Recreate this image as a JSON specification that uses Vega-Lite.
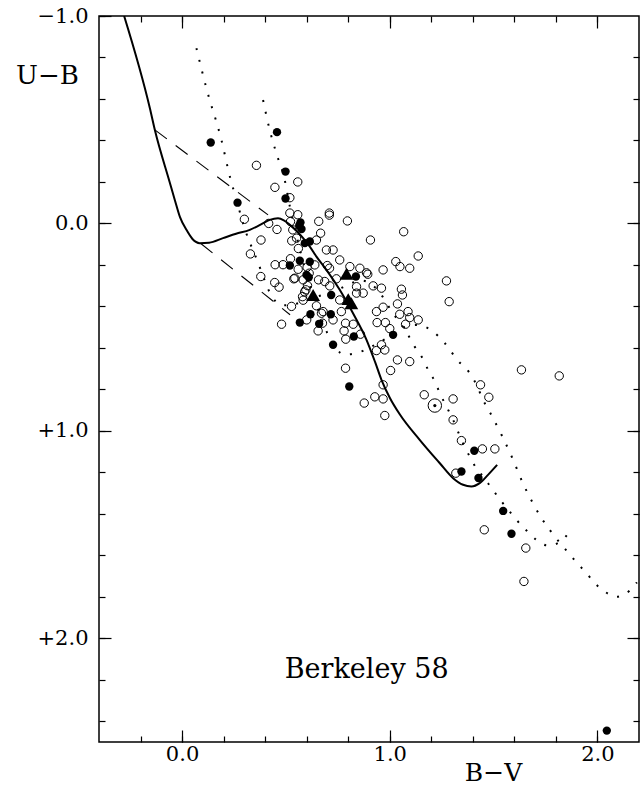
{
  "$schema": "https://vega.github.io/schema/vega-lite/v6.json",
  "width": 540,
  "height": 726,
  "autosize": "none",
  "padding": {"left": 99, "top": 16, "right": 5, "bottom": 45},
  "background": "white",
  "config": {
    "view": {"stroke": "black", "strokeWidth": 1.5},
    "font": "DejaVu Serif",
    "axis": {
      "grid": false, "domain": false, "tickColor": "black", "tickWidth": 1.2,
      "labelColor": "black", "titleColor": "black", "labelFont": "DejaVu Serif", "titleFont": "DejaVu Serif",
      "labelFontSize": 21, "titleFontSize": 26, "titleFontWeight": "normal",
      "labelOverlap": false, "labelFlush": false, "labelBound": false
    }
  },
  "resolve": {"axis": {"x": "independent", "y": "independent"}},
  "datasets": {
    "pts": [
      {"t":"f","bv":0.138,"ub":-0.39},{"t":"f","bv":0.457,"ub":-0.44},{"t":"f","bv":0.498,"ub":-0.25},{"t":"f","bv":0.267,"ub":-0.10},
      {"t":"f","bv":0.498,"ub":-0.12},{"t":"f","bv":0.564,"ub":0.01},{"t":"f","bv":0.575,"ub":0.027},{"t":"f","bv":0.57,"ub":-0.005},
      {"t":"f","bv":0.591,"ub":0.095},{"t":"f","bv":0.615,"ub":0.087},{"t":"f","bv":0.567,"ub":0.18},{"t":"f","bv":0.615,"ub":0.185},
      {"t":"f","bv":0.519,"ub":0.203},{"t":"f","bv":0.599,"ub":0.248},{"t":"f","bv":0.61,"ub":0.26},{"t":"f","bv":0.837,"ub":0.256},
      {"t":"f","bv":0.718,"ub":0.345},{"t":"f","bv":0.567,"ub":0.478},{"t":"f","bv":0.618,"ub":0.438},{"t":"f","bv":0.66,"ub":0.484},
      {"t":"f","bv":0.716,"ub":0.438},{"t":"f","bv":0.827,"ub":0.545},{"t":"f","bv":1.016,"ub":0.537},{"t":"f","bv":0.727,"ub":0.585},
      {"t":"f","bv":0.805,"ub":0.786},{"t":"f","bv":1.407,"ub":1.096},{"t":"f","bv":1.345,"ub":1.196},{"t":"f","bv":1.427,"ub":1.227},
      {"t":"f","bv":1.546,"ub":1.386},{"t":"f","bv":1.586,"ub":1.496},{"t":"f","bv":2.045,"ub":2.445},
      {"t":"t","bv":0.792,"ub":0.243},{"t":"t","bv":0.631,"ub":0.345},{"t":"t","bv":0.80,"ub":0.365},{"t":"t","bv":0.815,"ub":0.385},
      {"t":"d","bv":1.217,"ub":0.878},
      {"t":"o","bv":0.358,"ub":-0.28},{"t":"o","bv":0.557,"ub":-0.20},{"t":"o","bv":0.447,"ub":-0.174},{"t":"o","bv":0.519,"ub":-0.124},
      {"t":"o","bv":0.30,"ub":-0.02},{"t":"o","bv":0.519,"ub":-0.05},{"t":"o","bv":0.557,"ub":-0.042},{"t":"o","bv":0.709,"ub":-0.05},
      {"t":"o","bv":0.709,"ub":-0.04},{"t":"o","bv":0.796,"ub":-0.012},{"t":"o","bv":0.658,"ub":-0.01},{"t":"o","bv":0.417,"ub":0.0},
      {"t":"o","bv":0.457,"ub":0.029},{"t":"o","bv":0.522,"ub":-0.009},{"t":"o","bv":0.533,"ub":0.031},{"t":"o","bv":0.667,"ub":0.047},
      {"t":"o","bv":0.38,"ub":0.08},{"t":"o","bv":0.528,"ub":0.084},{"t":"o","bv":0.551,"ub":0.071},{"t":"o","bv":0.647,"ub":0.08},
      {"t":"o","bv":0.56,"ub":0.121},{"t":"o","bv":0.695,"ub":0.128},{"t":"o","bv":0.727,"ub":0.128},{"t":"o","bv":0.907,"ub":0.08},
      {"t":"o","bv":1.067,"ub":0.04},{"t":"o","bv":0.329,"ub":0.147},{"t":"o","bv":0.759,"ub":0.176},{"t":"o","bv":0.522,"ub":0.17},
      {"t":"o","bv":0.448,"ub":0.199},{"t":"o","bv":0.486,"ub":0.199},{"t":"o","bv":0.559,"ub":0.221},{"t":"o","bv":0.602,"ub":0.211},
      {"t":"o","bv":0.639,"ub":0.2},{"t":"o","bv":0.699,"ub":0.203},{"t":"o","bv":0.71,"ub":0.216},{"t":"o","bv":0.808,"ub":0.208},
      {"t":"o","bv":0.856,"ub":0.216},{"t":"o","bv":0.888,"ub":0.238},{"t":"o","bv":0.894,"ub":0.245},{"t":"o","bv":0.968,"ub":0.224},
      {"t":"o","bv":1.029,"ub":0.184},{"t":"o","bv":1.049,"ub":0.208},{"t":"o","bv":1.096,"ub":0.216},{"t":"o","bv":1.137,"ub":0.157},
      {"t":"o","bv":1.273,"ub":0.277},{"t":"o","bv":1.286,"ub":0.377},{"t":"o","bv":0.538,"ub":0.267},{"t":"o","bv":0.583,"ub":0.272},
      {"t":"o","bv":0.612,"ub":0.24},{"t":"o","bv":0.657,"ub":0.272},{"t":"o","bv":0.687,"ub":0.28},{"t":"o","bv":0.711,"ub":0.301},
      {"t":"o","bv":0.743,"ub":0.267},{"t":"o","bv":0.446,"ub":0.285},{"t":"o","bv":0.467,"ub":0.307},{"t":"o","bv":0.379,"ub":0.256},
      {"t":"o","bv":0.596,"ub":0.32},{"t":"o","bv":0.58,"ub":0.353},{"t":"o","bv":0.583,"ub":0.37},{"t":"o","bv":0.759,"ub":0.369},
      {"t":"o","bv":0.84,"ub":0.305},{"t":"o","bv":0.872,"ub":0.336},{"t":"o","bv":0.92,"ub":0.301},{"t":"o","bv":0.96,"ub":0.312},
      {"t":"o","bv":1.056,"ub":0.317},{"t":"o","bv":1.061,"ub":0.345},{"t":"o","bv":0.968,"ub":0.404},{"t":"o","bv":0.936,"ub":0.425},
      {"t":"o","bv":1.037,"ub":0.388},{"t":"o","bv":1.048,"ub":0.438},{"t":"o","bv":1.088,"ub":0.425},{"t":"o","bv":1.096,"ub":0.454},
      {"t":"o","bv":1.137,"ub":0.465},{"t":"o","bv":1.076,"ub":0.486},{"t":"o","bv":0.939,"ub":0.478},{"t":"o","bv":0.979,"ub":0.478},
      {"t":"o","bv":1.0,"ub":0.507},{"t":"o","bv":0.527,"ub":0.40},{"t":"o","bv":0.479,"ub":0.486},{"t":"o","bv":0.655,"ub":0.518},
      {"t":"o","bv":0.676,"ub":0.481},{"t":"o","bv":0.727,"ub":0.465},{"t":"o","bv":0.647,"ub":0.397},{"t":"o","bv":0.679,"ub":0.425},
      {"t":"o","bv":0.767,"ub":0.425},{"t":"o","bv":0.787,"ub":0.481},{"t":"o","bv":0.824,"ub":0.486},{"t":"o","bv":0.78,"ub":0.518},
      {"t":"o","bv":0.788,"ub":0.558},{"t":"o","bv":0.859,"ub":0.534},{"t":"o","bv":0.936,"ub":0.613},{"t":"o","bv":0.96,"ub":0.585},
      {"t":"o","bv":0.976,"ub":0.61},{"t":"o","bv":1.037,"ub":0.658},{"t":"o","bv":1.096,"ub":0.666},{"t":"o","bv":0.787,"ub":0.698},
      {"t":"o","bv":1.004,"ub":0.709},{"t":"o","bv":0.968,"ub":0.778},{"t":"o","bv":0.928,"ub":0.836},{"t":"o","bv":0.968,"ub":0.846},
      {"t":"o","bv":0.877,"ub":0.866},{"t":"o","bv":0.976,"ub":0.926},{"t":"o","bv":1.166,"ub":0.826},{"t":"o","bv":1.634,"ub":0.706},
      {"t":"o","bv":1.816,"ub":0.735},{"t":"o","bv":1.437,"ub":0.778},{"t":"o","bv":1.477,"ub":0.838},{"t":"o","bv":1.305,"ub":0.846},
      {"t":"o","bv":1.305,"ub":0.947},{"t":"o","bv":1.345,"ub":1.047},{"t":"o","bv":1.446,"ub":1.087},{"t":"o","bv":1.506,"ub":1.087},
      {"t":"o","bv":1.318,"ub":1.204},{"t":"o","bv":1.455,"ub":1.477},{"t":"o","bv":1.655,"ub":1.565},{"t":"o","bv":1.646,"ub":1.726},
      {"t":"o","bv":0.543,"ub":0.264},{"t":"o","bv":0.6,"ub":0.465},{"t":"o","bv":0.671,"ub":0.433},{"t":"o","bv":0.84,"ub":0.336},
      {"t":"o","bv":0.59,"ub":0.33},{"t":"o","bv":0.604,"ub":0.30}
    ],
    "lines": [
      {"g":"s","bv":-0.279,"ub":-1.0},{"g":"s","bv":-0.155,"ub":-0.555},{"g":"s","bv":-0.131,"ub":-0.45},{"g":"s","bv":-0.06,"ub":-0.2},
      {"g":"s","bv":-0.035,"ub":-0.113},{"g":"s","bv":-0.01,"ub":-0.03},{"g":"s","bv":0.021,"ub":0.031},{"g":"s","bv":0.05,"ub":0.075},
      {"g":"s","bv":0.085,"ub":0.095},{"g":"s","bv":0.13,"ub":0.093},{"g":"s","bv":0.197,"ub":0.071},{"g":"s","bv":0.26,"ub":0.05},
      {"g":"s","bv":0.326,"ub":0.031},{"g":"s","bv":0.38,"ub":0.005},{"g":"s","bv":0.422,"ub":-0.017},{"g":"s","bv":0.462,"ub":-0.025},
      {"g":"s","bv":0.49,"ub":-0.015},{"g":"s","bv":0.519,"ub":0.007},{"g":"s","bv":0.55,"ub":0.035},{"g":"s","bv":0.583,"ub":0.071},
      {"g":"s","bv":0.615,"ub":0.112},{"g":"s","bv":0.647,"ub":0.16},{"g":"s","bv":0.695,"ub":0.224},{"g":"s","bv":0.759,"ub":0.32},
      {"g":"s","bv":0.823,"ub":0.433},{"g":"s","bv":0.888,"ub":0.561},{"g":"s","bv":0.93,"ub":0.67},{"g":"s","bv":0.96,"ub":0.754},
      {"g":"s","bv":1.0,"ub":0.84},{"g":"s","bv":1.048,"ub":0.92},{"g":"s","bv":1.144,"ub":1.043},{"g":"s","bv":1.241,"ub":1.156},
      {"g":"s","bv":1.305,"ub":1.228},{"g":"s","bv":1.353,"ub":1.26},{"g":"s","bv":1.393,"ub":1.268},{"g":"s","bv":1.433,"ub":1.252},
      {"g":"s","bv":1.473,"ub":1.212},{"g":"s","bv":1.517,"ub":1.164},
      {"g":"d1","bv":-0.131,"ub":-0.451},{"g":"d1","bv":0.414,"ub":-0.041},
      {"g":"d2","bv":0.09,"ub":0.097},{"g":"d2","bv":0.52,"ub":0.44},
      {"g":"p1","bv":0.069,"ub":-0.845},{"g":"p1","bv":0.117,"ub":-0.652},{"g":"p1","bv":0.19,"ub":-0.40},{"g":"p1","bv":0.23,"ub":-0.226},
      {"g":"p1","bv":0.262,"ub":-0.113},{"g":"p1","bv":0.30,"ub":0.02},{"g":"p1","bv":0.365,"ub":0.187},{"g":"p1","bv":0.40,"ub":0.28},
      {"g":"p1","bv":0.421,"ub":0.331},{"g":"p1","bv":0.45,"ub":0.375},{"g":"p1","bv":0.485,"ub":0.395},{"g":"p1","bv":0.54,"ub":0.39},
      {"g":"p1","bv":0.597,"ub":0.371},{"g":"p1","bv":0.66,"ub":0.35},{"g":"p1","bv":0.726,"ub":0.331},{"g":"p1","bv":0.79,"ub":0.30},
      {"g":"p1","bv":0.862,"ub":0.275},{"g":"p1","bv":0.92,"ub":0.30},{"g":"p1","bv":0.976,"ub":0.369},{"g":"p1","bv":1.0,"ub":0.409},
      {"g":"p1","bv":1.088,"ub":0.537},{"g":"p1","bv":1.12,"ub":0.594},{"g":"p1","bv":1.153,"ub":0.642},{"g":"p1","bv":1.185,"ub":0.706},
      {"g":"p1","bv":1.217,"ub":0.762},{"g":"p1","bv":1.241,"ub":0.818},{"g":"p1","bv":1.273,"ub":0.883},{"g":"p1","bv":1.305,"ub":0.947},
      {"g":"p1","bv":1.345,"ub":1.043},{"g":"p1","bv":1.385,"ub":1.124},{"g":"p1","bv":1.417,"ub":1.18},{"g":"p1","bv":1.449,"ub":1.22},
      {"g":"p1","bv":1.49,"ub":1.276},{"g":"p1","bv":1.53,"ub":1.33},{"g":"p1","bv":1.57,"ub":1.38},{"g":"p1","bv":1.61,"ub":1.429},
      {"g":"p1","bv":1.658,"ub":1.48},{"g":"p1","bv":1.706,"ub":1.525},{"g":"p1","bv":1.762,"ub":1.553},{"g":"p1","bv":1.819,"ub":1.536},
      {"g":"p1","bv":1.867,"ub":1.485},
      {"g":"p2","bv":0.39,"ub":-0.595},{"g":"p2","bv":0.422,"ub":-0.45},{"g":"p2","bv":0.454,"ub":-0.338},{"g":"p2","bv":0.494,"ub":-0.21},
      {"g":"p2","bv":0.519,"ub":-0.081},{"g":"p2","bv":0.549,"ub":0.05},{"g":"p2","bv":0.60,"ub":0.25},{"g":"p2","bv":0.645,"ub":0.387},
      {"g":"p2","bv":0.70,"ub":0.53},{"g":"p2","bv":0.74,"ub":0.60},{"g":"p2","bv":0.78,"ub":0.632},{"g":"p2","bv":0.84,"ub":0.625},
      {"g":"p2","bv":0.90,"ub":0.60},{"g":"p2","bv":1.006,"ub":0.54},{"g":"p2","bv":1.07,"ub":0.50},{"g":"p2","bv":1.13,"ub":0.49},
      {"g":"p2","bv":1.20,"ub":0.515},{"g":"p2","bv":1.263,"ub":0.575},{"g":"p2","bv":1.327,"ub":0.66},{"g":"p2","bv":1.385,"ub":0.722},
      {"g":"p2","bv":1.425,"ub":0.794},{"g":"p2","bv":1.449,"ub":0.851},{"g":"p2","bv":1.48,"ub":0.907},{"g":"p2","bv":1.538,"ub":1.019},
      {"g":"p2","bv":1.594,"ub":1.14},{"g":"p2","bv":1.64,"ub":1.25},{"g":"p2","bv":1.69,"ub":1.35},{"g":"p2","bv":1.73,"ub":1.42},
      {"g":"p2","bv":1.78,"ub":1.49},{"g":"p2","bv":1.859,"ub":1.587},{"g":"p2","bv":1.90,"ub":1.635},{"g":"p2","bv":1.947,"ub":1.686},
      {"g":"p2","bv":1.987,"ub":1.734},{"g":"p2","bv":2.035,"ub":1.775},{"g":"p2","bv":2.09,"ub":1.80},{"g":"p2","bv":2.155,"ub":1.77},
      {"g":"p2","bv":2.19,"ub":1.73}
    ]
  },
  "layer": [
    {
      "data": {"name": "lines"},
      "transform": [{"filter": "datum.g == 's'"}],
      "mark": {"type": "line", "color": "black", "strokeWidth": 2, "interpolate": "monotone", "clip": true},
      "encoding": {
        "x": {"field": "bv", "type": "quantitative", "scale": {"domain": [-0.4, 2.2], "nice": false, "zero": false},
          "axis": {"orient": "bottom", "values": [-0.2, 0, 0.2, 0.4, 0.6, 0.8, 1.0, 1.2, 1.4, 1.6, 1.8, 2.0], "tickSize": -6, "labelPadding": 7,
            "labelExpr": "abs(datum.value - round(datum.value)) < 0.001 ? format(datum.value, '.1f') : ''",
            "title": "B−V", "titleX": 394, "titleY": 30, "titleAlign": "center", "titleBaseline": "middle", "titleAngle": 0, "titleFontSize": 25}},
        "y": {"field": "ub", "type": "quantitative", "scale": {"domain": [-1.0, 2.5], "nice": false, "zero": false, "reverse": true},
          "axis": {"orient": "left", "values": [-1.0, -0.8, -0.6, -0.4, -0.2, 0, 0.2, 0.4, 0.6, 0.8, 1.0, 1.2, 1.4, 1.6, 1.8, 2.0, 2.2, 2.4], "tickSize": -6, "labelPadding": 17,
            "labelExpr": "abs(datum.value - round(datum.value)) < 0.001 ? (datum.value > 0.001 ? '+' + format(datum.value, '.1f') : (datum.value < -0.001 ? '−' + format(-datum.value, '.1f') : '0.0')) : ''",
            "title": "U−B", "titleX": -52, "titleY": 59, "titleAlign": "center", "titleBaseline": "middle", "titleAngle": 0}}
      }
    },
    {
      "data": {"name": "lines"},
      "transform": [{"filter": "datum.g == 'd1' || datum.g == 'd2'"}],
      "mark": {"type": "line", "color": "black", "strokeWidth": 1.1, "strokeDash": [15, 11]},
      "encoding": {
        "detail": {"field": "g"},
        "x": {"field": "bv", "type": "quantitative", "scale": {"domain": [-0.4, 2.2], "nice": false, "zero": false},
          "axis": {"orient": "bottom", "values": [0, 1, 2], "tickSize": -12, "labels": false, "title": null}},
        "y": {"field": "ub", "type": "quantitative", "scale": {"domain": [-1.0, 2.5], "nice": false, "zero": false, "reverse": true},
          "axis": {"orient": "left", "values": [-1, 0, 1, 2], "tickSize": -12, "labels": false, "title": null}}
      }
    },
    {
      "data": {"name": "lines"},
      "transform": [{"filter": "datum.g == 'p1' || datum.g == 'p2'"}],
      "mark": {"type": "line", "color": "black", "strokeWidth": 2, "strokeDash": [2, 10], "interpolate": "monotone", "clip": true},
      "encoding": {
        "detail": {"field": "g"},
        "x": {"field": "bv", "type": "quantitative", "scale": {"domain": [-0.4, 2.2], "nice": false, "zero": false},
          "axis": {"orient": "top", "values": [-0.2, 0, 0.2, 0.4, 0.6, 0.8, 1.0, 1.2, 1.4, 1.6, 1.8, 2.0], "tickSize": -6, "labels": false, "title": null}},
        "y": {"field": "ub", "type": "quantitative", "scale": {"domain": [-1.0, 2.5], "nice": false, "zero": false, "reverse": true},
          "axis": {"orient": "right", "values": [-0.8, -0.6, -0.4, -0.2, 0, 0.2, 0.4, 0.6, 0.8, 1.0, 1.2, 1.4, 1.6, 1.8, 2.0, 2.2, 2.4], "tickSize": -6, "labels": false, "title": null}}
      }
    },
    {
      "data": {"name": "pts"},
      "transform": [{"filter": "datum.t == 'o'"}],
      "mark": {"type": "point", "shape": "circle", "filled": false, "color": "black", "strokeWidth": 1, "size": 70, "opacity": 1},
      "encoding": {
        "x": {"field": "bv", "type": "quantitative", "scale": {"domain": [-0.4, 2.2], "nice": false, "zero": false},
          "axis": {"orient": "top", "values": [0, 1, 2], "tickSize": -12, "labels": false, "title": null}},
        "y": {"field": "ub", "type": "quantitative", "scale": {"domain": [-1.0, 2.5], "nice": false, "zero": false, "reverse": true},
          "axis": {"orient": "right", "values": [0, 1, 2], "tickSize": -12, "labels": false, "title": null}}
      }
    },
    {
      "data": {"name": "pts"},
      "transform": [{"filter": "datum.t == 'f'"}],
      "mark": {"type": "point", "shape": "circle", "filled": true, "color": "black", "size": 70, "opacity": 1},
      "encoding": {
        "x": {"field": "bv", "type": "quantitative", "axis": null},
        "y": {"field": "ub", "type": "quantitative", "axis": null}
      }
    },
    {
      "data": {"name": "pts"},
      "transform": [{"filter": "datum.t == 't'"}],
      "mark": {"type": "point", "shape": "triangle-up", "filled": true, "color": "black", "size": 190, "opacity": 1},
      "encoding": {
        "x": {"field": "bv", "type": "quantitative", "axis": null},
        "y": {"field": "ub", "type": "quantitative", "axis": null}
      }
    },
    {
      "data": {"name": "pts"},
      "transform": [{"filter": "datum.t == 'd'"}],
      "mark": {"type": "point", "shape": "circle", "filled": false, "color": "black", "strokeWidth": 1, "size": 180, "opacity": 1},
      "encoding": {
        "x": {"field": "bv", "type": "quantitative", "axis": null},
        "y": {"field": "ub", "type": "quantitative", "axis": null}
      }
    },
    {
      "data": {"name": "pts"},
      "transform": [{"filter": "datum.t == 'd'"}],
      "mark": {"type": "point", "shape": "circle", "filled": true, "color": "black", "size": 10, "opacity": 1},
      "encoding": {
        "x": {"field": "bv", "type": "quantitative", "axis": null},
        "y": {"field": "ub", "type": "quantitative", "axis": null}
      }
    },
    {
      "data": {"values": [{"label": "Berkeley 58"}]},
      "mark": {"type": "text", "font": "DejaVu Serif", "fontSize": 27, "color": "black", "align": "center", "baseline": "middle"},
      "encoding": {
        "x": {"datum": 0.889, "type": "quantitative", "axis": null},
        "y": {"datum": 2.152, "type": "quantitative", "axis": null},
        "text": {"field": "label"}
      }
    }
  ]
}
